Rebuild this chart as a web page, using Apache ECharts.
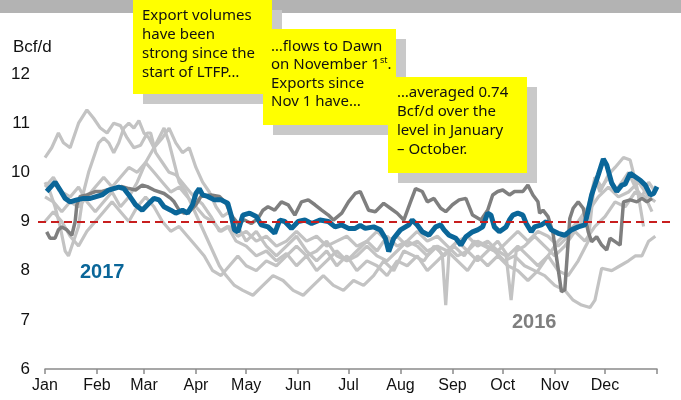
<!DOCTYPE html>
<html>
<head>
<meta charset="utf-8">
<script src="https://cdn.jsdelivr.net/npm/echarts@6/dist/echarts.min.js"></script>
<style>
  html, body { margin: 0; padding: 0; background: #fff; }
  #chart { width: 681px; height: 400px; }
</style>
</head>
<body>
<div id="chart"></div>
<script>
  // x = day of year (0..365), y = Bcf/d
  var months = ['Jan', 'Feb', 'Mar', 'Apr', 'May', 'Jun', 'Jul', 'Aug', 'Sep', 'Oct', 'Nov', 'Dec'];
  var monthStarts = [0, 31, 59, 90, 120, 151, 181, 212, 243, 273, 304, 334];
  var yearEnd = 365;
  var yTicks = [6, 7, 8, 9, 10, 11, 12];
  var refLevel = 9;

  var s2017 = [[1,9.61],[6,9.80],[9,9.64],[12,9.47],[15,9.40],[19,9.44],[23,9.47],[27,9.47],[32,9.52],[34,9.54],[38,9.64],[44,9.70],[47,9.67],[50,9.54],[54,9.34],[58,9.23],[62,9.37],[65,9.47],[68,9.44],[71,9.30],[75,9.23],[78,9.17],[82,9.23],[85,9.17],[88,9.34],[90,9.57],[92,9.67],[94,9.54],[97,9.51],[101,9.44],[105,9.44],[109,9.37],[111,9.13],[113,8.83],[115,8.79],[118,9.13],[122,9.17],[126,9.10],[129,8.93],[133,8.89],[137,8.76],[140,9.03],[143,9.00],[147,8.86],[151,9.00],[155,9.03],[159,8.96],[164,9.03],[169,9.00],[173,8.89],[177,8.93],[181,8.86],[185,8.86],[188,8.92],[191,8.86],[196,8.89],[200,8.83],[203,8.66],[205,8.39],[208,8.66],[212,8.83],[217,8.93],[219,9.03],[222,8.93],[225,8.79],[229,8.72],[233,8.89],[236,8.93],[238,8.83],[241,8.72],[245,8.66],[248,8.52],[251,8.69],[255,8.79],[258,8.83],[261,8.89],[264,9.17],[266,9.13],[268,8.89],[271,8.79],[275,8.89],[277,9.03],[279,9.13],[282,9.17],[285,9.13],[287,8.96],[290,8.79],[292,8.89],[296,8.93],[299,9.00],[302,8.83],[306,8.76],[310,8.72],[314,8.83],[318,8.89],[322,8.93],[326,9.54],[330,9.95],[333,10.27],[335,10.15],[338,9.78],[341,9.61],[344,9.74],[346,9.76],[349,9.98],[352,9.91],[355,9.84],[358,9.74],[361,9.54],[363,9.57],[365,9.71]];

  var s2016 = [[1,8.79],[3,8.66],[6,8.66],[8,8.83],[10,8.89],[13,8.83],[16,8.72],[18,9.00],[19,9.34],[21,9.51],[25,9.54],[30,9.61],[34,9.61],[37,9.64],[40,9.67],[46,9.71],[50,9.67],[54,9.64],[58,9.74],[61,9.71],[65,9.64],[71,9.57],[75,9.47],[77,9.40],[80,9.23],[83,9.17],[86,9.20],[90,9.34],[93,9.51],[99,9.54],[104,9.51],[108,9.37],[111,9.13],[115,8.96],[119,9.03],[123,8.96],[127,9.06],[130,9.23],[133,9.30],[137,9.23],[141,9.40],[145,9.34],[149,9.13],[153,9.40],[157,9.44],[161,9.34],[165,9.23],[169,9.13],[172,9.03],[177,9.17],[181,9.40],[185,9.57],[188,9.61],[193,9.23],[197,9.20],[202,9.37],[206,9.27],[210,9.17],[214,9.03],[218,9.40],[221,9.67],[225,9.61],[228,9.40],[232,9.47],[236,9.27],[239,9.20],[243,9.34],[247,9.44],[251,9.47],[255,9.13],[260,9.03],[264,9.23],[267,9.54],[270,9.61],[273,9.64],[277,9.54],[280,9.61],[285,9.61],[288,9.74],[291,9.54],[294,9.40],[295,9.17],[297,9.23],[300,9.10],[303,8.76],[306,8.05],[308,7.57],[310,7.61],[313,9.06],[315,9.27],[318,9.40],[321,9.27],[324,8.79],[326,8.59],[329,8.69],[332,8.52],[335,8.42],[337,8.66],[340,8.59],[343,8.52],[345,9.40],[349,9.44],[353,9.40],[356,9.47],[359,9.40],[362,9.47]];

  // earlier years, all drawn in light grey
  var sOld1 = [[0,10.3],[4,10.5],[8,10.8],[11,10.6],[15,10.5],[20,11.0],[25,11.27],[29,11.1],[33,10.9],[37,10.8],[41,11.0],[45,10.95],[49,10.7],[53,10.5],[57,10.55],[61,10.8],[63,10.8],[66,10.4],[70,10.2],[74,10.0],[78,9.95],[84,9.7],[89,9.5],[94,9.35],[99,9.1],[104,8.8],[109,8.9],[114,8.6],[120,8.5],[126,8.3],[132,8.4],[138,8.2],[144,8.35],[150,8.1],[156,8.3],[162,8.0],[168,8.2],[174,8.4],[180,8.2],[186,8.3],[192,8.5],[198,8.3],[204,8.2],[210,8.4],[216,8.6],[222,8.5],[228,8.3],[234,8.5],[240,8.4],[246,8.6],[252,8.4],[258,8.2],[264,8.4],[270,8.6],[276,8.3],[282,8.5],[288,8.3],[294,8.1],[300,8.3],[306,8.0],[312,7.9],[318,8.2],[324,8.6],[328,9.9],[331,9.6],[336,9.95],[340,10.1],[345,10.3],[349,10.25],[353,9.7],[357,8.9]];
  var sOld2 = [[0,9.8],[3,9.6],[6,9.3],[9,8.9],[12,8.4],[14,8.3],[17,8.6],[20,8.9],[23,9.6],[26,10.0],[29,10.3],[32,10.6],[35,10.7],[38,10.6],[41,10.4],[44,10.6],[47,10.9],[50,11.0],[53,10.9],[56,11.05],[59,10.8],[62,10.7],[65,10.5],[68,10.7],[71,10.9],[74,10.6],[77,10.2],[80,9.8],[84,9.6],[88,9.3],[92,9.0],[96,8.7],[100,8.4],[104,8.1],[108,7.9],[113,7.7],[118,7.6],[124,7.5],[130,7.7],[136,7.9],[142,7.8],[148,7.6],[154,7.5],[160,7.7],[166,7.9],[172,7.7],[178,7.6],[184,7.8],[190,7.7],[196,7.9],[202,8.2],[208,8.0],[214,8.4],[220,8.3],[226,8.2],[232,8.5],[238,8.3],[244,8.5],[250,8.3],[256,8.6],[262,8.5],[268,8.4],[274,8.2],[280,8.3],[286,8.1],[292,8.0],[298,7.9],[304,7.7],[310,7.6],[315,7.4],[320,7.3],[325,7.25],[328,7.4],[332,8.05],[338,8.0],[343,8.1],[348,8.2],[352,8.3],[356,8.3],[360,8.6],[364,8.7]];
  var sOld3 = [[0,9.5],[5,9.4],[10,9.2],[15,9.4],[20,9.3],[25,9.5],[30,9.7],[35,9.9],[40,9.7],[45,9.9],[50,10.1],[55,10.0],[60,10.2],[65,10.0],[70,9.8],[75,9.6],[80,9.7],[85,9.5],[90,9.3],[95,9.1],[100,9.0],[105,8.8],[110,8.9],[115,8.7],[120,8.8],[126,8.6],[132,8.7],[138,8.5],[144,8.6],[150,8.8],[156,8.6],[162,8.7],[168,8.5],[174,8.6],[180,8.7],[186,8.5],[192,8.6],[198,8.8],[204,8.6],[210,8.7],[216,8.5],[222,8.6],[228,8.4],[234,8.5],[237,8.3],[239,7.3],[241,8.4],[246,8.6],[252,8.7],[258,8.5],[264,8.6],[270,8.4],[276,8.6],[282,8.8],[288,8.6],[294,8.8],[300,8.7],[306,8.5],[312,8.7],[318,8.9],[324,9.2],[330,9.5],[336,9.7],[342,9.5],[348,9.6],[354,9.8],[360,9.5],[364,9.4]];
  var sOld4 = [[0,9.0],[5,9.2],[10,9.0],[15,8.7],[20,8.5],[25,8.8],[30,9.0],[35,9.2],[40,9.4],[45,9.2],[50,9.0],[55,9.3],[60,9.5],[65,9.3],[70,9.0],[75,8.8],[80,8.9],[85,8.7],[90,8.5],[95,8.3],[100,8.0],[105,7.9],[110,8.1],[115,8.3],[120,8.1],[126,8.0],[132,8.2],[138,8.1],[144,8.3],[150,8.5],[156,8.3],[162,8.4],[168,8.6],[174,8.3],[180,8.2],[186,8.4],[192,8.6],[198,8.4],[204,8.7],[210,8.5],[216,8.6],[222,8.8],[228,8.6],[234,8.7],[240,8.5],[246,8.3],[252,8.4],[258,8.6],[264,8.5],[270,8.4],[275,8.3],[278,7.4],[281,8.4],[286,8.5],[292,8.7],[298,8.5],[304,8.3],[310,8.5],[316,8.8],[322,8.6],[328,8.9],[334,9.1],[340,9.4],[346,9.3],[352,9.6],[358,9.5],[362,9.2]];
  var sOld5 = [[0,9.7],[5,9.9],[10,9.6],[15,9.5],[20,9.7],[25,9.4],[30,9.2],[35,9.4],[40,9.6],[45,9.3],[50,9.5],[55,9.8],[60,10.2],[65,10.5],[70,10.7],[74,10.9],[78,10.6],[82,10.4],[86,10.5],[90,10.1],[94,9.8],[98,9.6],[102,9.3],[106,9.1],[110,9.2],[115,8.9],[120,8.6],[126,8.8],[132,8.5],[138,8.3],[144,8.5],[150,8.7],[156,8.4],[162,8.2],[168,8.4],[174,8.1],[180,8.3],[186,8.0],[192,8.2],[198,8.1],[204,7.9],[210,8.2],[216,8.1],[222,8.3],[228,8.0],[234,8.2],[240,8.4],[246,8.2],[252,8.0],[258,8.3],[264,8.1],[270,8.3],[276,8.1],[282,8.0],[288,7.8],[294,8.0],[300,8.3],[306,8.6],[312,8.8],[318,9.0],[324,9.3],[328,9.9],[332,9.7],[336,9.9],[340,9.6],[344,9.8],[348,10.0],[352,9.7],[356,9.5],[360,9.8],[364,9.6]];

  var oldYears = [sOld1, sOld2, sOld3, sOld4, sOld5];

  var noteFont = '15px "Noto Sans"';

  var chart = echarts.init(document.getElementById('chart'));

  var series = oldYears.map(function (d) {
    return {
      type: 'line', data: d, symbol: 'none', silent: true,
      lineStyle: { color: '#c3c3c3', width: 3.2 }
    };
  });
  series.push({
    type: 'line', data: s2016, symbol: 'none', silent: true,
    lineStyle: { color: '#7f7f7f', width: 3.5 }
  });
  series.push({
    type: 'line', data: s2017, symbol: 'none', silent: true,
    lineStyle: { color: '#0a6699', width: 5 },
    markLine: {
      silent: true, symbol: 'none', label: { show: false },
      lineStyle: { color: '#c81e1e', width: 2, type: [8, 5] },
      data: [[{ x: 38, yAxis: refLevel }, { x: 671, yAxis: refLevel }]]
    }
  });

  chart.setOption({
    animation: false,
    title: {
      text: 'Bcf/d', left: 8, top: 34,
      textStyle: { fontFamily: 'Liberation Sans', fontSize: 17, fontWeight: 'normal', color: '#111' }
    },
    grid: { left: 45, right: 24, top: 74, bottom: 31 },
    xAxis: {
      type: 'value', min: 0, max: yearEnd,
      splitLine: { show: false },
      axisLine: { lineStyle: { color: '#8a8a8a', width: 1.5 } },
      axisTick: { customValues: monthStarts.concat([yearEnd]), length: 5, lineStyle: { color: '#8a8a8a', width: 1.5 } },
      axisLabel: {
        customValues: monthStarts, margin: 9,
        fontFamily: 'Liberation Sans', fontSize: 16, color: '#111',
        formatter: function (v) { return months[monthStarts.indexOf(v)]; }
      }
    },
    yAxis: {
      type: 'value', min: yTicks[0], max: yTicks[yTicks.length - 1], interval: 1,
      splitLine: { show: false }, axisLine: { show: false }, axisTick: { show: false },
      axisLabel: { fontFamily: 'Liberation Sans', fontSize: 17, color: '#111', margin: 15 }
    },
    series: series,
    graphic: [
      { type: 'rect', shape: { x: 0, y: 0, width: 681, height: 13 }, style: { fill: '#b3b3b3' }, z: 10 },
      { type: 'rect', shape: { x: 143, y: 10, width: 139, height: 94 }, style: { fill: '#c9c9c9' }, z: 11 },
      { type: 'rect', shape: { x: 133, y: 0, width: 139, height: 94 }, style: { fill: '#ffff00' }, z: 12 },
      { type: 'text', x: 142, y: 6, z: 13,
        style: { text: 'Export volumes\nhave been\nstrong since the\nstart of LTFP…', font: noteFont, fill: '#111', lineHeight: 19 } },
      { type: 'rect', shape: { x: 273, y: 39, width: 133, height: 96 }, style: { fill: '#c9c9c9' }, z: 14 },
      { type: 'rect', shape: { x: 263, y: 29, width: 133, height: 96 }, style: { fill: '#ffff00' }, z: 15 },
      { type: 'text', x: 271, y: 37, z: 16,
        style: {
          text: '…flows to Dawn\non November 1{sup|st}.\nExports since\nNov 1 have…',
          font: noteFont, fill: '#111', lineHeight: 18.5,
          rich: { sup: { fontSize: 9, fontFamily: 'Noto Sans', fill: '#111', verticalAlign: 'top', lineHeight: 14 } }
        } },
      { type: 'rect', shape: { x: 398, y: 87, width: 139, height: 96 }, style: { fill: '#c9c9c9' }, z: 17 },
      { type: 'rect', shape: { x: 388, y: 77, width: 139, height: 96 }, style: { fill: '#ffff00' }, z: 18 },
      { type: 'text', x: 397, y: 83, z: 19,
        style: { text: '…averaged 0.74\nBcf/d over the\nlevel in January\n– October.', font: noteFont, fill: '#111', lineHeight: 19 } },
      { type: 'text', x: 80, y: 262, z: 20,
        style: { text: '2017', font: 'bold 20px "Liberation Sans"', fill: '#0a6699' } },
      { type: 'text', x: 512, y: 312, z: 20,
        style: { text: '2016', font: 'bold 20px "Liberation Sans"', fill: '#7f7f7f' } }
    ]
  });
</script>
</body>
</html>
